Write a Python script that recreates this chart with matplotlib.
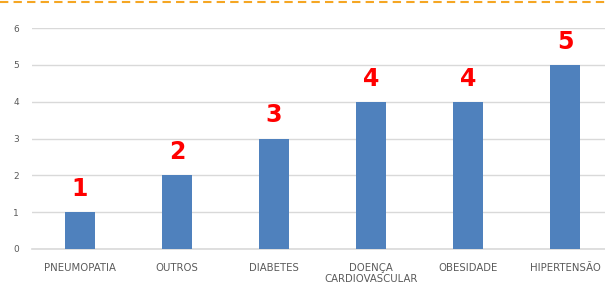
"""Grafico de barras: comorbidades."""

import matplotlib

matplotlib.use("Agg")
import matplotlib.pyplot as plt
from matplotlib.lines import Line2D

categorias = ["PNEUMOPATIA", "OUTROS", "DIABETES", "DOENÇA\nCARDIOVASCULAR",
              "OBESIDADE", "HIPERTENSÃO"]
valores = [1, 2, 3, 4, 4, 5]
yticks = [0, 1, 2, 3, 4, 5, 6]

AZUL = "#4f81bd"
CINZA = "#595959"

fig = plt.figure(figsize=(6.05, 2.92), dpi=100)
# o eixo passa da borda direita, como no original recortado
ax = fig.add_axes([31.5 / 605, 43 / 292, 582 / 605, 221 / 292])

x = range(len(categorias))
ax.bar(x, valores, width=0.31, color=AZUL, zorder=3)
for xi, v in zip(x, valores):
    ax.text(xi, v + 0.3, str(v), ha="center", va="bottom", color="red",
            fontsize=17, fontweight="bold")

ax.set_xlim(-0.5, len(categorias) - 0.5)
ax.set_ylim(0, 6)
ax.set_yticks(yticks)
ax.set_xticks(list(x), labels=categorias)
ax.tick_params(axis="both", length=0, colors=CINZA, labelsize=6.5)
ax.tick_params(axis="x", pad=10, labelsize=7.3)
ax.tick_params(axis="y", pad=9)
ax.yaxis.grid(True, color="#d9d9d9", linewidth=1, zorder=0)
for side in ["top", "right", "left"]:
    ax.spines[side].set_visible(False)
ax.spines["bottom"].set_color("#d9d9d9")
ax.spines["bottom"].set_linewidth(1.2)

# linha tracejada laranja no topo
fig.add_artist(Line2D([0, 1], [1 - 1.5 / 292] * 2, transform=fig.transFigure,
                      color="#f5a623", linestyle=(0, (4, 2.5)), linewidth=1.5))

plt.savefig("out.png", dpi=100)
plt.close()
